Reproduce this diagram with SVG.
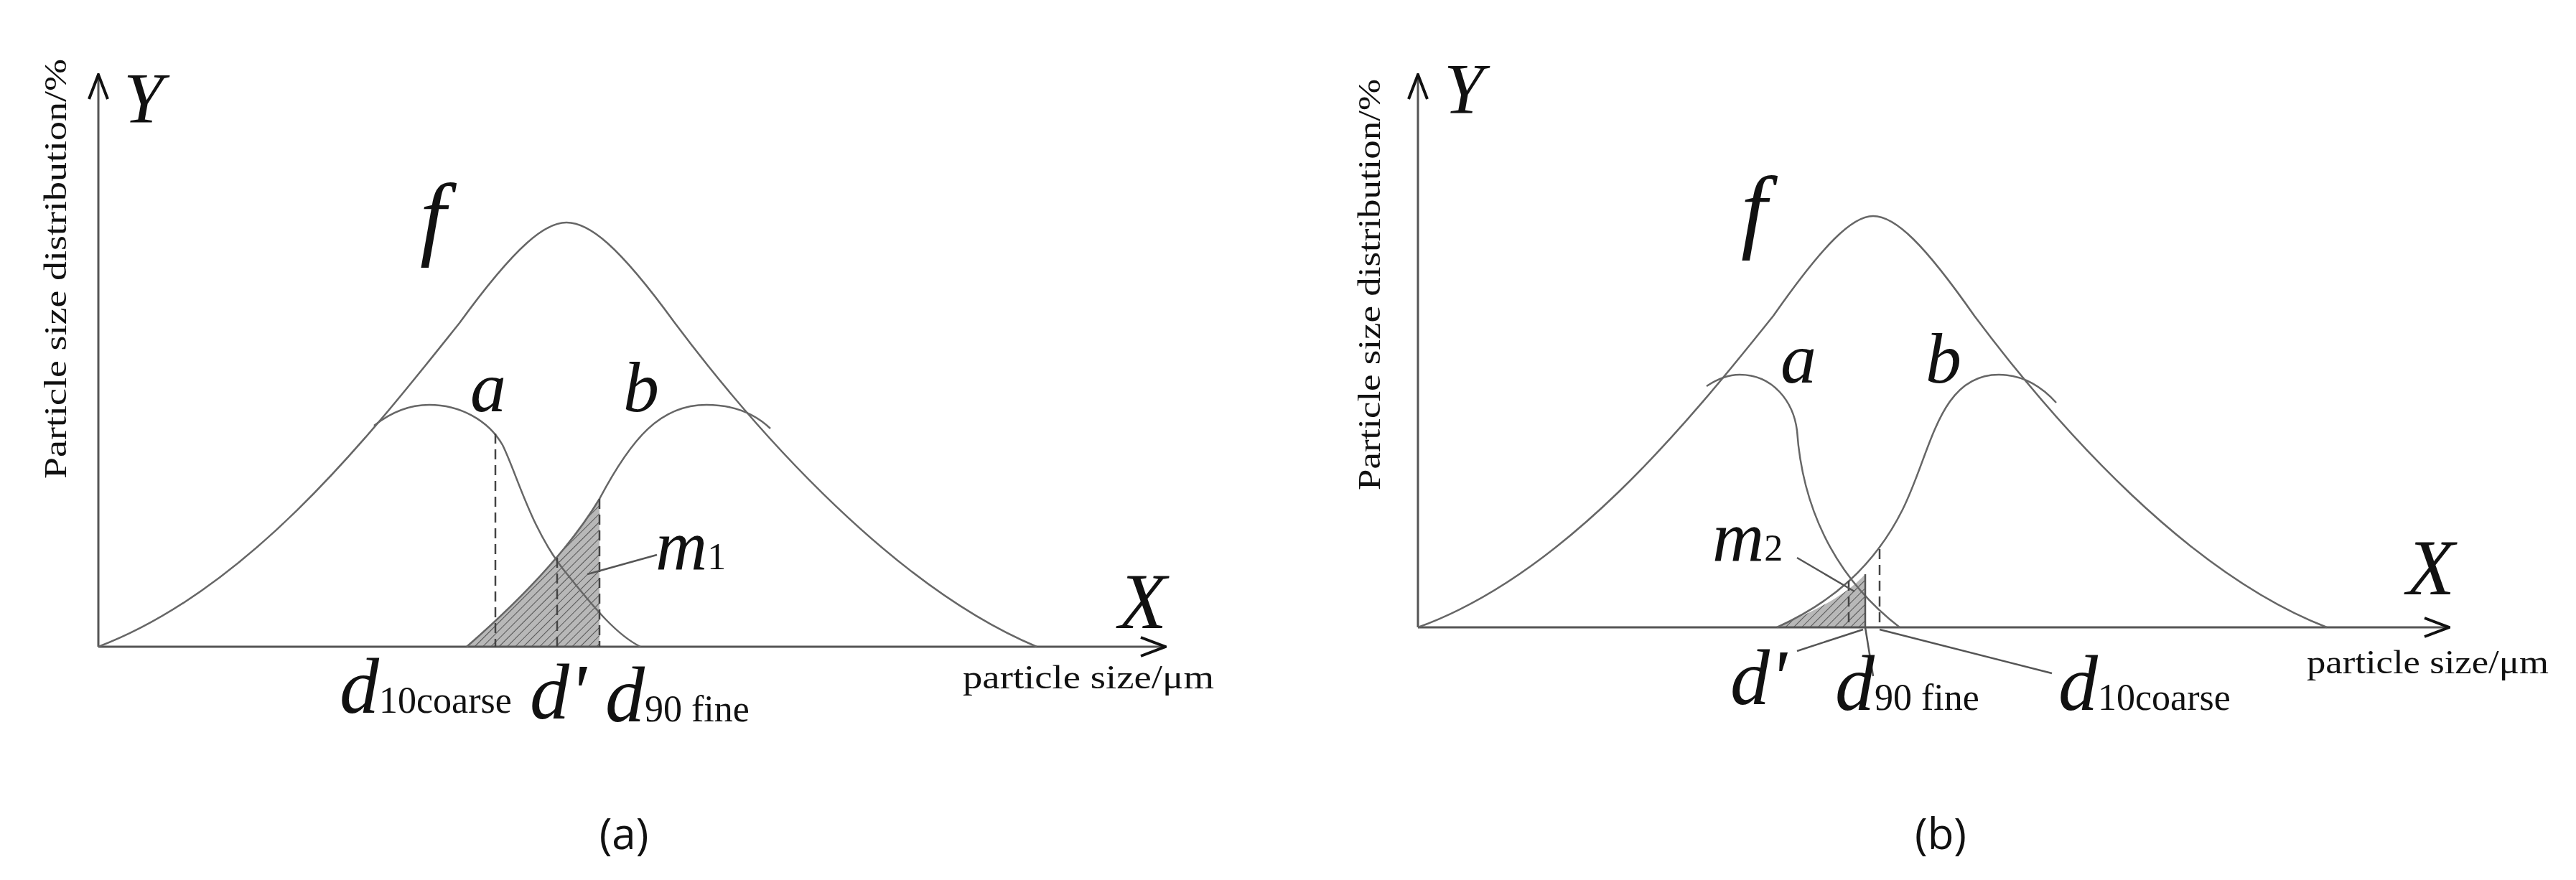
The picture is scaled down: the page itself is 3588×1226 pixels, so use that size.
<svg xmlns="http://www.w3.org/2000/svg" width="3588" height="1226" viewBox="0 0 3588 1226">
<style>
.c{fill:none;stroke:#666;stroke-width:2.5}
.ax{fill:none;stroke:#555;stroke-width:3}
.d{fill:none;stroke:#444;stroke-width:2.5;stroke-dasharray:14 8}
.l{fill:none;stroke:#555;stroke-width:2.5}
.it{font-family:"Liberation Serif",serif;font-style:italic;fill:#111}
.rm{font-family:"Liberation Serif",serif;fill:#111}
.cap{font-family:"Open Sans",sans-serif;font-size:60px;fill:#111;text-anchor:middle}
</style>
<defs>
<marker id="ar" markerWidth="12" markerHeight="12" refX="10" refY="6" orient="auto" markerUnits="userSpaceOnUse" viewBox="0 0 12 12"><path d="M0,0 L12,6 L0,12" fill="none" stroke="#111" stroke-width="2"/></marker>
<marker id="arr" markerWidth="40" markerHeight="30" refX="38" refY="15" orient="auto" markerUnits="userSpaceOnUse"><path d="M4,2 L38,15 L4,28" fill="none" stroke="#111" stroke-width="4"/></marker>
<pattern id="h" width="8" height="8" patternUnits="userSpaceOnUse" patternTransform="rotate(45)"><rect width="8" height="8" fill="#b8b8b8"/><line x1="0" y1="0" x2="0" y2="8" stroke="#555" stroke-width="2"/></pattern>
</defs>
<g id="panel-a">
<path d="M650,901 C720,840 790,770 835,695 L835,901 Z" fill="url(#h)" stroke="none"/>
<g id="axes-a"><line class="ax" x1="137" y1="901" x2="137" y2="104" marker-end="url(#arr)"/><line class="ax" x1="137" y1="901" x2="1623" y2="901" marker-end="url(#arr)"/></g>
<path id="f-a" class="c" d="M137,901 C350,820 520,600 640,450 C720,340 760,310 789,310 C820,310 860,340 940,450 C1060,610 1250,820 1444,901"/>
<path id="a-a" class="c" d="M521,593 C550,570 575,564 598,564 C640,564 680,585 700,620 C720,660 740,740 790,800 C830,850 860,885 892,901"/>
<path id="b-a" class="c" d="M650,901 C720,840 790,770 835,695 C880,610 920,564 984,564 C1020,564 1050,575 1073,597"/>
<g id="dash-a"><line class="d" x1="690" y1="604" x2="690" y2="901"/><line class="d" x1="776" y1="777" x2="776" y2="901"/><line class="d" x1="835" y1="695" x2="835" y2="901"/></g>
<line class="l" x1="915" y1="773" x2="818" y2="800"/>
<text class="it" x="172" y="170" font-size="100">Y</text>
<text class="rm" font-size="44" transform="translate(92,667) rotate(-90)" textLength="585" lengthAdjust="spacingAndGlyphs">Particle size distribution/%</text>
<text class="it" x="585" y="345" font-size="130">f</text>
<text class="it" x="655" y="573" font-size="100">a</text>
<text class="it" x="868" y="573" font-size="100">b</text>
<text class="it" x="1558" y="875" font-size="110">X</text>
<text class="it" x="913" y="793" font-size="100">m<tspan class="rm" font-style="normal" font-size="52">1</tspan></text>
<text class="rm" x="1341" y="959" font-size="46" textLength="350" lengthAdjust="spacingAndGlyphs">particle size/μm</text>
<text class="it" x="473" y="993" font-size="110">d<tspan class="rm" font-style="normal" font-size="52">10coarse</tspan></text>
<text class="it" x="738" y="1001" font-size="110">d'</text>
<text class="it" x="843" y="1005" font-size="110">d<tspan class="rm" font-style="normal" font-size="52">90 fine</tspan></text>
<text class="cap" x="869" y="1183">(a)</text>
</g>
<g id="panel-b">
<path d="M2475,874 C2530,850 2570,830 2598,800 L2598,874 Z" fill="url(#h)" stroke="none"/>
<g id="axes-b"><line class="ax" x1="1975" y1="874" x2="1975" y2="104" marker-end="url(#arr)"/><line class="ax" x1="1975" y1="874" x2="3411" y2="874" marker-end="url(#arr)"/></g>
<path id="f-b" class="c" d="M1975,874 C2180,800 2350,590 2470,440 C2540,340 2580,301 2609,301 C2640,301 2680,340 2750,440 C2870,600 3050,800 3241,874"/>
<path id="a-b" class="c" d="M2377,538 C2395,526 2410,522 2423,522 C2470,522 2498,560 2503,600 C2510,700 2550,800 2646,874"/>
<path id="b-b" class="c" d="M2475,874 C2550,840 2610,790 2650,710 C2690,630 2700,522 2784,522 C2820,522 2845,540 2864,561"/>
<g id="dash-b"><line class="d" x1="2575" y1="809" x2="2575" y2="874"/><line class="d" x1="2618" y1="765" x2="2618" y2="874"/></g>
<g id="leaders-b">
<line class="l" x1="2598" y1="800" x2="2598" y2="874"/>
<line class="l" x1="2503" y1="777" x2="2583" y2="824"/>
<line class="l" x1="2595" y1="877" x2="2503" y2="907"/>
<line class="l" x1="2598" y1="874" x2="2609" y2="942"/>
<line class="l" x1="2618" y1="877" x2="2858" y2="938"/>
</g>
<text class="it" x="2011" y="157" font-size="100">Y</text>
<text class="rm" font-size="44" transform="translate(1922,683) rotate(-90)" textLength="573" lengthAdjust="spacingAndGlyphs">Particle size distribution/%</text>
<text class="it" x="2425" y="335" font-size="130">f</text>
<text class="it" x="2480" y="533" font-size="100">a</text>
<text class="it" x="2682" y="533" font-size="100">b</text>
<text class="it" x="3352" y="828" font-size="110">X</text>
<text class="it" x="2385" y="781" font-size="100">m<tspan class="rm" font-style="normal" font-size="52">2</tspan></text>
<text class="rm" x="3213" y="938" font-size="46" textLength="337" lengthAdjust="spacingAndGlyphs">particle size/μm</text>
<text class="it" x="2410" y="981" font-size="110">d'</text>
<text class="it" x="2556" y="989" font-size="110">d<tspan class="rm" font-style="normal" font-size="52">90 fine</tspan></text>
<text class="it" x="2867" y="989" font-size="110">d<tspan class="rm" font-style="normal" font-size="52">10coarse</tspan></text>
<text class="cap" x="2703" y="1183">(b)</text>
</g>
</svg>
